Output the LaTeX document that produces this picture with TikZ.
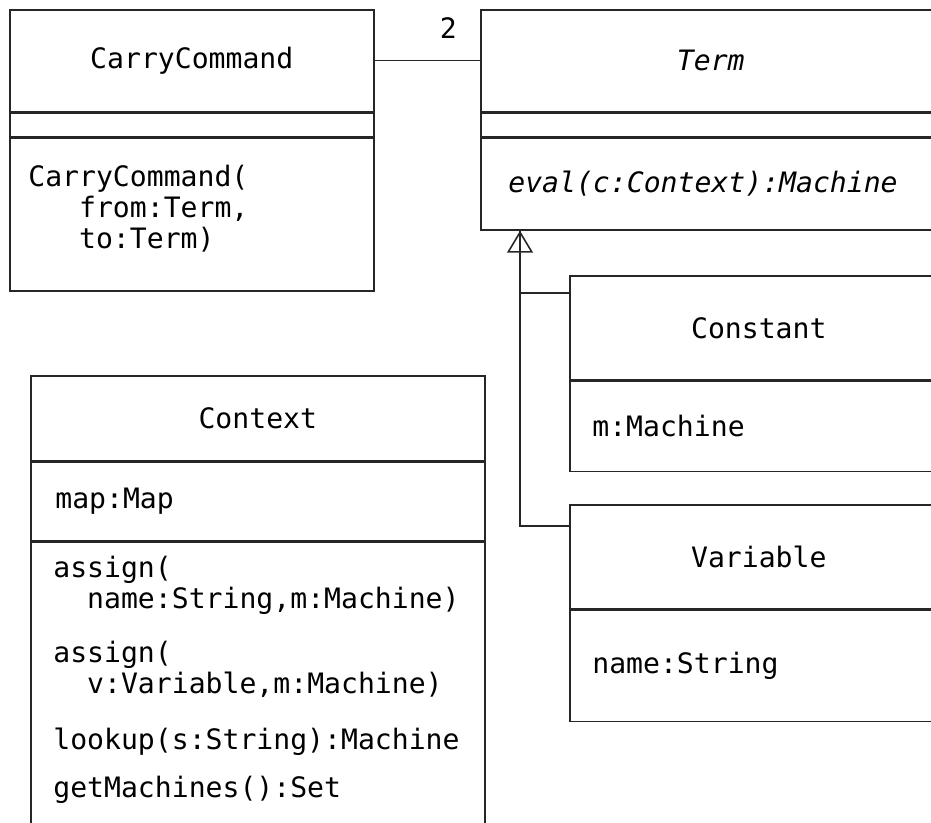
\documentclass[tikz,border=0pt]{standalone}
\usepackage{fontspec}
\setmonofont{DejaVu Sans Mono}
\usepackage{tikz}
\usetikzlibrary{positioning,arrows.meta,calc}

\begin{document}
\begin{tikzpicture}[
        font=\ttfamily\fontsize{16}{17.5}\selectfont,
        cell/.style={
            draw=black!85,
            line width=0.9pt,
            inner sep=0pt,
            align=center
        },
        member/.style={
            inner sep=0pt,
            align=left
        },
        assoc/.style={
            line width=0.8pt,
            draw=black!85
        },
        inherit/.style={
            -{Triangle[open,length=0.44cm,width=0.52cm]},
            line width=0.9pt,
            draw=black!85
        },
        mult/.style={
            inner sep=0pt
        }
    ]

    \path[use as bounding box, clip] (0,0) rectangle (18.62,-16.46);

    % =========================
    % CarryCommand
    % =========================
    \node[cell, anchor=north west, minimum width=7.28cm, minimum height=2.04cm] (carryname) at (0.18,-0.18) {CarryCommand};
    \node[cell, below=0cm of carryname, minimum width=7.28cm, minimum height=0.46cm] (carryattr) {};
    \node[cell, below=0cm of carryattr, minimum width=7.28cm, minimum height=3.06cm] (carryops) {};
    \node[member, below right=0.56cm and 0.38cm of carryops.north west] (carryctor)
        {CarryCommand(\\\phantom{xxx}from:Term,\\\phantom{xxx}to:Term)};

    % =========================
    % Term
    % =========================
    \node[cell, anchor=north west, minimum width=9.20cm, minimum height=2.04cm] (termname) at (9.60,-0.18) {\itshape Term};
    \node[cell, below=0cm of termname, minimum width=9.20cm, minimum height=0.46cm] (termattr) {};
    \node[cell, below=0cm of termattr, minimum width=9.20cm, minimum height=1.84cm] (termops) {};
    \node[member, right=0.56cm of termops.west] (termeval) {\itshape eval(c:Context):Machine};

    \draw[assoc] (carryname) -- node[mult, pos=0.7, above=0.44cm] (termmult) {2} (termname);

    % =========================
    % Constant and Variable
    % =========================
    \node[cell, anchor=north west, minimum width=7.56cm, minimum height=2.08cm] (constname) at (11.38,-5.50) {Constant};
    \node[cell, below=0cm of constname, minimum width=7.56cm, minimum height=1.80cm] (constattr) {};
    \node[member, right=0.46cm of constattr.west] (constm) {m:Machine};

    \node[cell, anchor=north west, minimum width=7.56cm, minimum height=2.08cm] (varname) at (11.38,-10.08) {Variable};
    \node[cell, below=0cm of varname, minimum width=7.56cm, minimum height=2.22cm] (varattr) {};
    \node[member, right=0.46cm of varattr.west] (varn) {name:String};

    \coordinate (gentip) at ($(termops.south west)+(0.8,0)$);
    \draw[assoc] (constname.north west) ++(0,-0.36) -| (gentip);
    \draw[inherit] (varname.north west) ++(0,-0.44) -| (gentip);

    % =========================
    % Context
    % =========================
    \node[cell, anchor=north west, minimum width=9.08cm, minimum height=1.70cm] (ctxname) at (0.60,-7.50) {Context};
    \node[cell, below=0cm of ctxname, minimum width=9.08cm, minimum height=1.56cm] (ctxattr) {};
    \node[cell, below=0cm of ctxattr, minimum width=9.08cm, minimum height=7cm] (ctxops) {};
    \node[member, right=0.5cm of ctxattr.west] (ctxmap) {map:Map};
    \node[member, below right=0.3cm and 0.46cm of ctxops.north west] (ctxmeth)
        {assign(\\\phantom{xx}name:String,m:Machine)\\[0.46cm]
         assign(\\\phantom{xx}v:Variable,m:Machine)\\[0.52cm]
         lookup(s:String):Machine\\[0.34cm]
         getMachines():Set};

\end{tikzpicture}
\end{document}
